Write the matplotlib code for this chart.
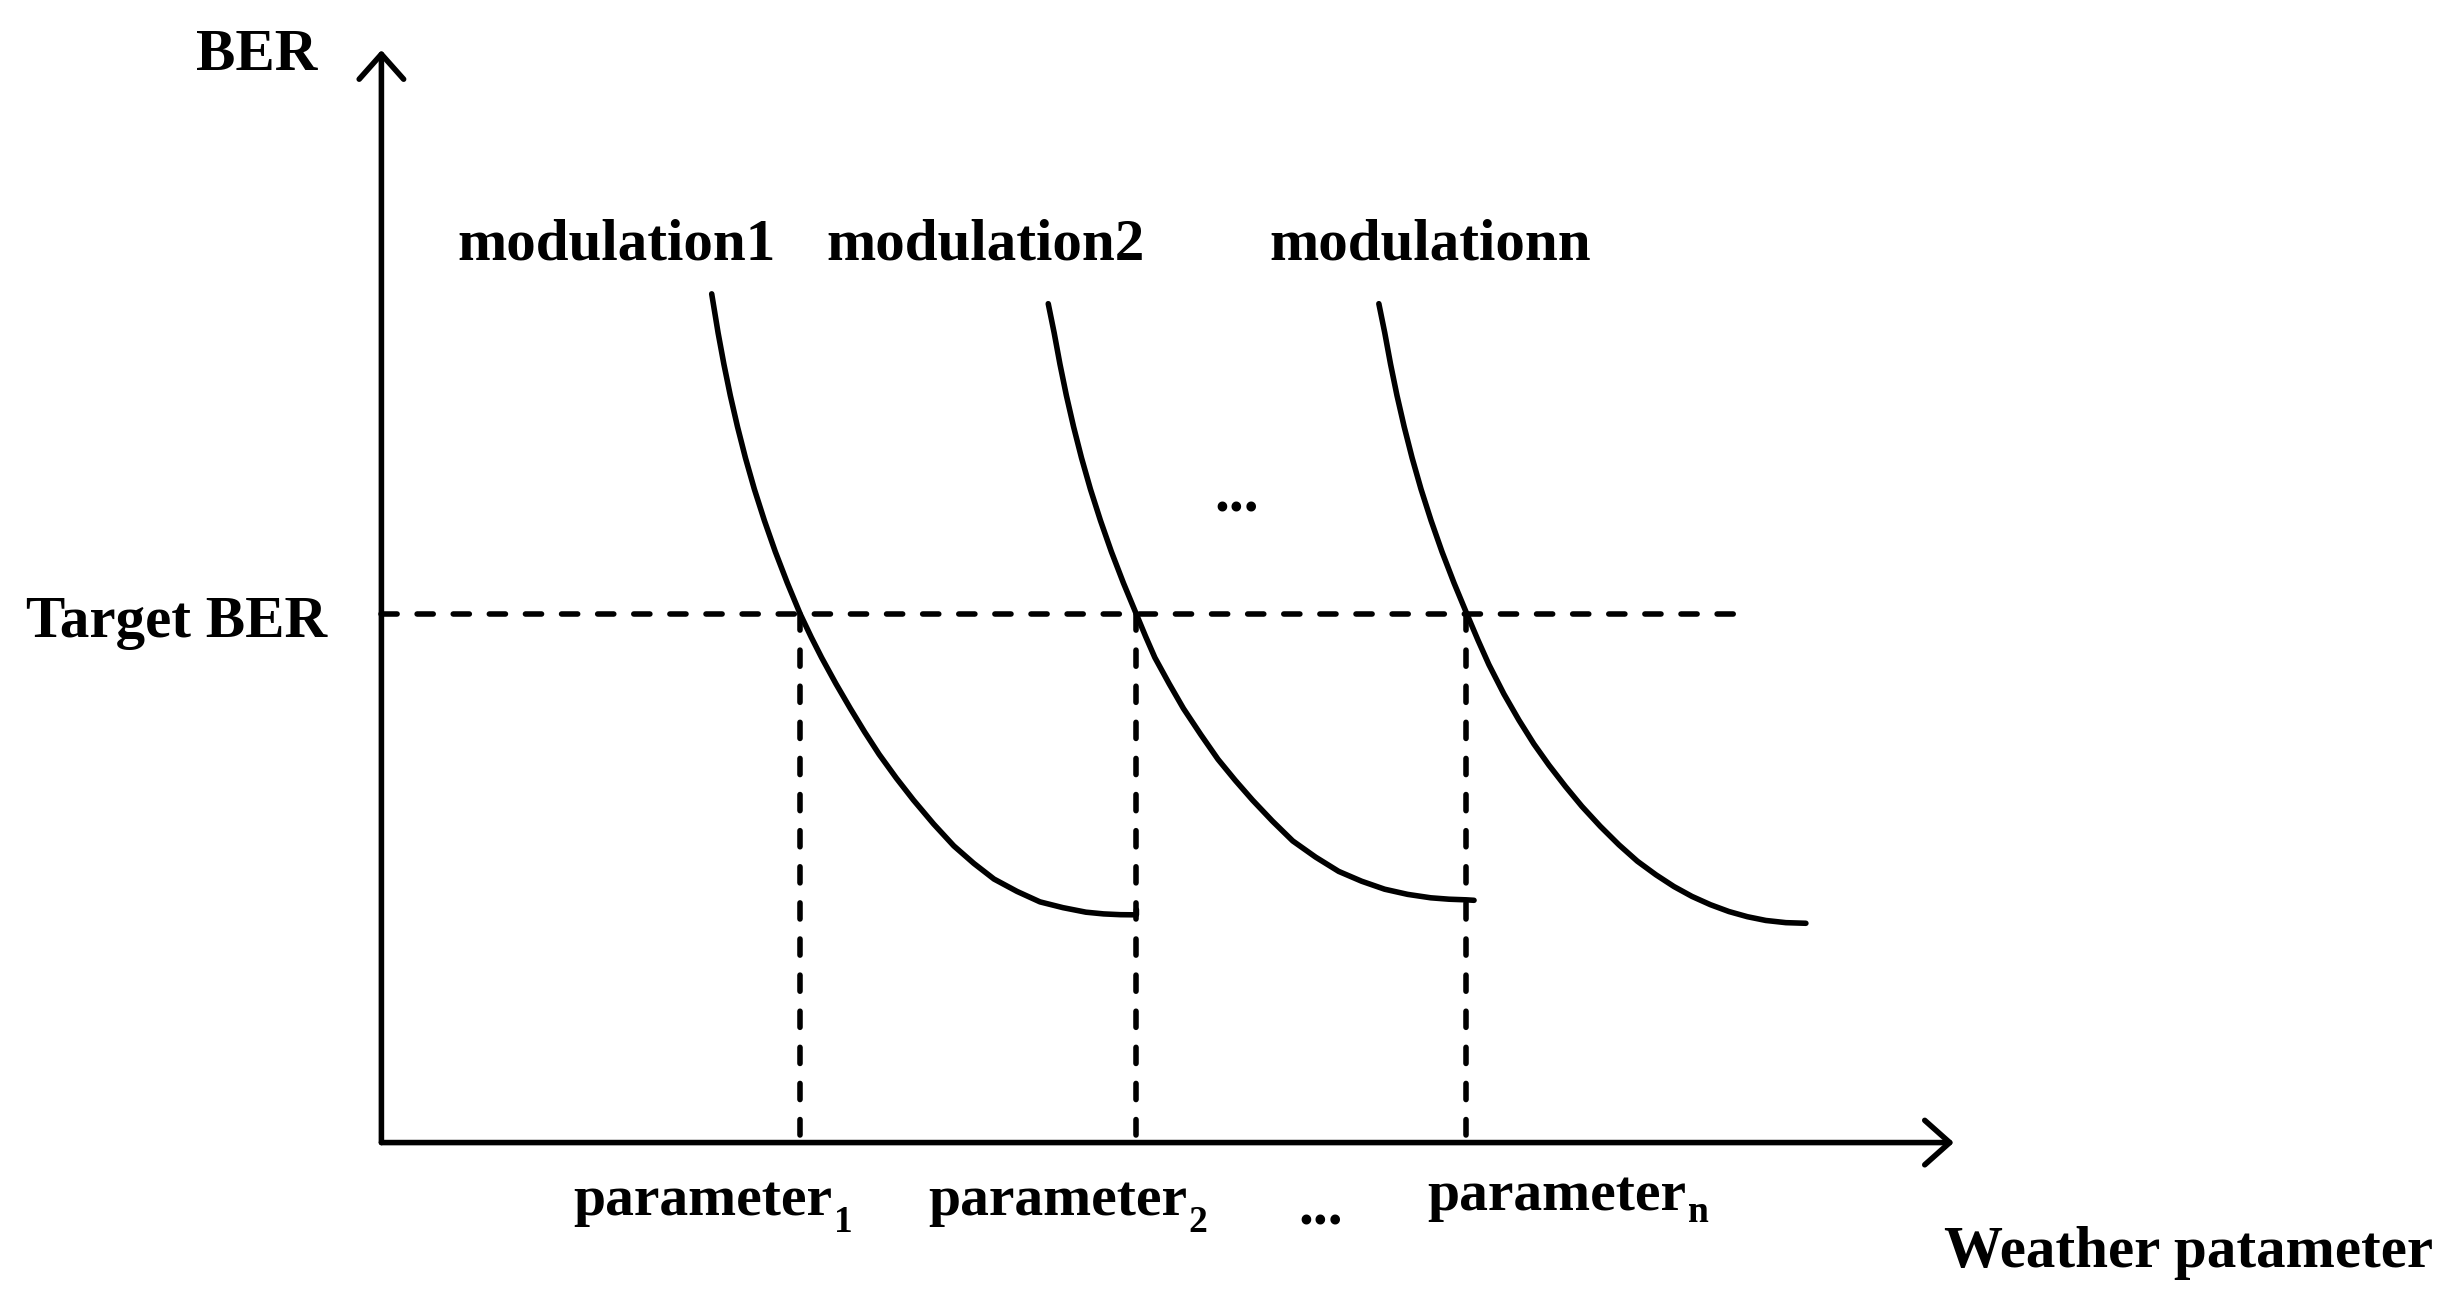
import matplotlib.pyplot as plt

plt.rcParams['font.family'] = ['Liberation Serif', 'DejaVu Serif']
plt.rcParams['font.weight'] = 'bold'

# schematic curves (arbitrary units)
mod1_x = [2.113, 2.154, 2.191, 2.232, 2.278, 2.329, 2.386, 2.45, 2.52, 2.597, 2.68,
          2.75, 2.816, 2.908, 3.0, 3.092, 3.184, 3.294, 3.404, 3.533, 3.662, 3.79,
          3.919, 4.066, 4.213, 4.36, 4.507, 4.62, 4.728, 4.83, 4.83]
mod1_y = [5.43, 5.18, 4.98, 4.78, 4.58, 4.38, 4.18, 3.98, 3.78, 3.58, 3.38,
          3.233, 3.103, 2.935, 2.777, 2.626, 2.484, 2.332, 2.191, 2.038, 1.898, 1.786,
          1.686, 1.607, 1.54, 1.503, 1.474, 1.463, 1.458, 1.457, 1.49]

mod2_x = [4.266, 4.304, 4.341, 4.382, 4.428, 4.479, 4.536, 4.60, 4.67, 4.747, 4.83,
          4.889, 4.948, 5.04, 5.131, 5.242, 5.352, 5.462, 5.573, 5.70, 5.83, 5.977,
          6.124, 6.271, 6.418, 6.565, 6.713, 6.83, 6.94, 6.99]
mod2_y = [5.367, 5.18, 4.98, 4.78, 4.58, 4.38, 4.18, 3.98, 3.78, 3.58, 3.38,
          3.238, 3.103, 2.935, 2.777, 2.61, 2.452, 2.318, 2.191, 2.057, 1.93, 1.826,
          1.735, 1.672, 1.621, 1.588, 1.566, 1.557, 1.553, 1.55]

mod3_x = [6.381, 6.419, 6.456, 6.497, 6.543, 6.594, 6.651, 6.715, 6.785, 6.862, 6.945,
          7.015, 7.085, 7.181, 7.277, 7.373, 7.469, 7.575, 7.68, 7.798, 7.917, 8.035,
          8.154, 8.269, 8.384, 8.502, 8.621, 8.739, 8.857, 8.985, 9.113]
mod3_y = [5.367, 5.18, 4.98, 4.78, 4.58, 4.38, 4.18, 3.98, 3.78, 3.58, 3.38,
          3.215, 3.058, 2.87, 2.703, 2.55, 2.415, 2.278, 2.151, 2.023, 1.905, 1.80,
          1.713, 1.638, 1.575, 1.522, 1.478, 1.445, 1.421, 1.407, 1.403]

target_ber = 3.38
target_end = 8.76
param_x = [2.68, 4.83, 6.94]

mod_labels = ['modulation1', 'modulation2', 'modulationn']
mod_label_x = [1.501, 3.865, 6.71]
param_subs = ['1', '2', 'n']
param_label_end = [2.885, 5.155, 8.35]
param_label_base = [-0.463, -0.463, -0.431]
param_sub_base = [-0.572, -0.572, -0.51]

x_tip, y_tip = 10.06, 6.99

fs = 42.5
param_fs = 41.5
sub_fs = 27
lw = 4.0
dash = (0, (2.9, 3.6))

fig = plt.figure(figsize=(24.51, 13.02), dpi=100)
ax = fig.add_axes([0, 0, 1, 1])
ax.set_xlim(-2.44, 13.24)
ax.set_ylim(-1.02, 7.31)
ax.axis('off')

# axes with open arrow heads
arrow = dict(arrowstyle='->, head_length=1.8, head_width=1.6', lw=lw, color='black',
             shrinkA=0, shrinkB=0, capstyle='round', joinstyle='round')
ax.annotate('', xy=(0, y_tip), xytext=(0, 0), arrowprops=arrow)
ax.annotate('', xy=(x_tip, 0), xytext=(0, 0), arrowprops=arrow)

# target BER line and the parameter drop lines
ax.plot([0, target_end], [target_ber, target_ber], color='black', lw=lw,
        linestyle=dash, dash_capstyle='round')
for px in param_x:
    ax.plot([px, px], [target_ber, 0.05], color='black', lw=lw,
            linestyle=dash, dash_capstyle='round')

for cx, cy in [(mod1_x, mod1_y), (mod2_x, mod2_y), (mod3_x, mod3_y)]:
    ax.plot(cx, cy, color='black', lw=lw, solid_capstyle='round', solid_joinstyle='round')

# labels
txt = dict(fontsize=fs, fontweight='bold', color='black')
ax.text(-0.796, 6.862, 'BER', ha='center', va='baseline', **txt)
ax.text(-1.311, 3.235, 'Target BER', ha='center', va='baseline', **txt)
for lab, lx in zip(mod_labels, mod_label_x):
    ax.text(lx, 5.65, lab, ha='center', va='baseline', **txt)
ax.text(5.47, 4.038, '...', ha='center', va='baseline', **txt)

for sub, ex, by, sy in zip(param_subs, param_label_end, param_label_base, param_sub_base):
    ax.text(ex, by, 'parameter', ha='right', va='baseline', fontsize=param_fs, fontweight='bold')
    ax.text(ex + 0.01, sy, sub, ha='left', va='baseline', fontsize=sub_fs, fontweight='bold')
ax.text(6.011, -0.527, '...', ha='center', va='baseline', **txt)

ax.text(11.56, -0.796, 'Weather patameter', ha='center', va='baseline', **txt)

fig.savefig('out.png', dpi=100)
